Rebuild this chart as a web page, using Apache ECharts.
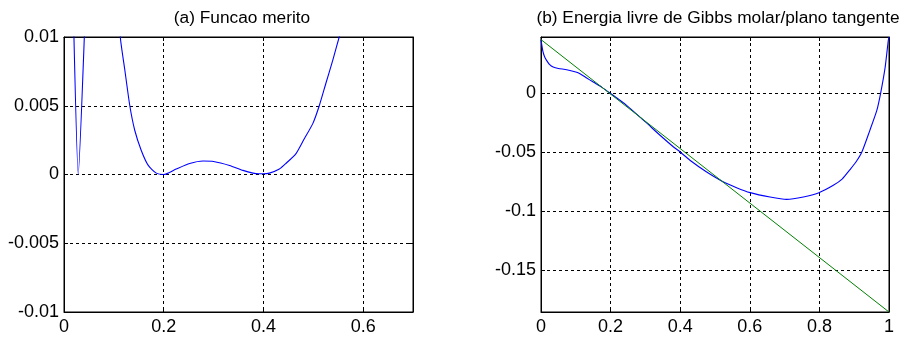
<!DOCTYPE html>
<html>
<head>
<meta charset="utf-8">
<script src="https://cdn.jsdelivr.net/npm/echarts@6/dist/echarts.min.js"></script>
<style>
  html, body { margin: 0; padding: 0; background: #fff; }
  #chart { width: 904px; height: 339px; }
</style>
</head>
<body>
<div id="chart"></div>
<script>
// (a) merit function
const meritX = [0.019, 0.0286, 0.041, 0.06, 0.08, 0.1, 0.113, 0.122, 0.132, 0.142, 0.155, 0.169, 0.185, 0.2, 0.225, 0.252, 0.279, 0.3, 0.332, 0.359, 0.379, 0.39, 0.4, 0.412, 0.432, 0.445, 0.465, 0.482, 0.499, 0.512, 0.525, 0.539, 0.552, 0.56];
const meritY = [0.0115, 0, 0.0102, 0.03, 0.035, 0.02, 0.01, 0.0076, 0.005, 0.0032, 0.00175, 0.00066, 0.0001, 0, 0.0004, 0.0008, 0.00098, 0.00095, 0.00066, 0.0003, 0.0001, 0.00005, 0.00005, 0.0001, 0.0004, 0.0008, 0.0015, 0.0026, 0.0037, 0.005, 0.0066, 0.0083, 0.01, 0.011];

// (b) molar Gibbs energy and tangent plane
const gibbsX = [0, 0.005, 0.01, 0.016, 0.025, 0.035, 0.05, 0.074, 0.1, 0.112, 0.13, 0.15, 0.175, 0.198, 0.246, 0.3, 0.342, 0.38, 0.4, 0.428, 0.476, 0.519, 0.562, 0.601, 0.658, 0.706, 0.754, 0.797, 0.84, 0.866, 0.888, 0.905, 0.922, 0.945, 0.965, 0.976, 0.989, 0.998, 1];
const gibbsY = [0.0453, 0.036, 0.031, 0.0277, 0.024, 0.022, 0.0208, 0.0198, 0.0178, 0.0164, 0.013, 0.0093, 0.0048, 0, -0.0104, -0.0245, -0.0358, -0.0455, -0.05, -0.057, -0.067, -0.0745, -0.0802, -0.0844, -0.0881, -0.0901, -0.0881, -0.0847, -0.0782, -0.0727, -0.0649, -0.0585, -0.05, -0.0316, -0.0147, 0, 0.022, 0.0447, 0.0475];
const tangentX = [0, 1];
const tangentY = [0.0453, -0.1856];

const titles = ['(a) Funcao merito', '(b) Energia livre de Gibbs molar/plano tangente'];

const FONT = '"Liberation Sans", Arial, sans-serif';
const pairs = (xs, ys) => xs.map((x, i) => [x, ys[i]]);

const gridLine = { show: true, lineStyle: { color: '#000', type: [3, 3], width: 1 } };
const labelStyle = (extra) => Object.assign({ color: '#000', fontFamily: FONT, fontSize: 18 }, extra);
const titleStyle = { fontFamily: FONT, fontSize: 17.3, fontWeight: 'normal', color: '#000' };
const mainAxis = (pos, idx, extra) => Object.assign({
  type: 'value',
  position: pos,
  gridIndex: idx,
  axisLine: { show: true, onZero: false, lineStyle: { color: '#000', width: 1 } },
  axisTick: { show: true, inside: true, length: 4, lineStyle: { color: '#000' } },
  axisLabel: labelStyle({}),
  splitLine: gridLine
}, extra);
const mirrorAxis = (pos, idx, extra) => Object.assign({
  type: 'value',
  position: pos,
  gridIndex: idx,
  axisLine: { show: true, onZero: false, lineStyle: { color: '#000', width: 1 } },
  axisTick: { show: true, inside: true, length: 4, lineStyle: { color: '#000' } },
  axisLabel: { show: false },
  splitLine: { show: false }
}, extra);

const el = document.getElementById('chart');
const myChart = echarts.init(el, null, { renderer: 'canvas' });
myChart.setOption({
  animation: false,
  backgroundColor: '#fff',
  title: [
    { text: titles[0], left: 237, top: 5, textAlign: 'center', textStyle: titleStyle },
    { text: titles[1], left: 713, top: 5, textAlign: 'center', textStyle: titleStyle }
  ],
  grid: [
    { left: 64, right: 491, top: 37, bottom: 27, show: true, borderColor: '#000', borderWidth: 1 },
    { left: 541, right: 15, top: 37, bottom: 27, show: true, borderColor: '#000', borderWidth: 1 }
  ],
  xAxis: [
    mainAxis('bottom', 0, { min: 0, max: 0.7, interval: 0.2,
      axisLabel: labelStyle({ margin: 6, showMaxLabel: false }) }),
    mainAxis('bottom', 1, { min: 0, max: 1, interval: 0.2,
      axisLabel: labelStyle({ margin: 6 }) }),
    mirrorAxis('top', 0, { min: 0, max: 0.7, interval: 0.2 }),
    mirrorAxis('top', 1, { min: 0, max: 1, interval: 0.2 })
  ],
  yAxis: [
    mainAxis('left', 0, { min: -0.01, max: 0.01, interval: 0.005,
      axisLabel: labelStyle({ margin: 5 }) }),
    mainAxis('left', 1, { min: -0.1856, max: 0.0475, splitNumber: 5,
      axisLabel: labelStyle({ margin: 5, showMinLabel: false, showMaxLabel: false }) }),
    mirrorAxis('right', 0, { min: -0.01, max: 0.01, interval: 0.005 }),
    mirrorAxis('right', 1, { min: -0.1856, max: 0.0475, splitNumber: 5 })
  ],
  series: [
    {
      name: 'merito', type: 'line', xAxisIndex: 0, yAxisIndex: 0,
      data: pairs(meritX, meritY), showSymbol: false, smooth: 0.2, clip: true,
      lineStyle: { color: '#0000ff', width: 1.1 }
    },
    {
      name: 'Gibbs', type: 'line', xAxisIndex: 1, yAxisIndex: 1,
      data: pairs(gibbsX, gibbsY), showSymbol: false, smooth: 0.2, clip: true,
      lineStyle: { color: '#0000ff', width: 1.1 }
    },
    {
      name: 'tangente', type: 'line', xAxisIndex: 1, yAxisIndex: 1,
      data: pairs(tangentX, tangentY), showSymbol: false, clip: true,
      lineStyle: { color: '#008000', width: 1 }
    }
  ]
});
</script>
</body>
</html>
